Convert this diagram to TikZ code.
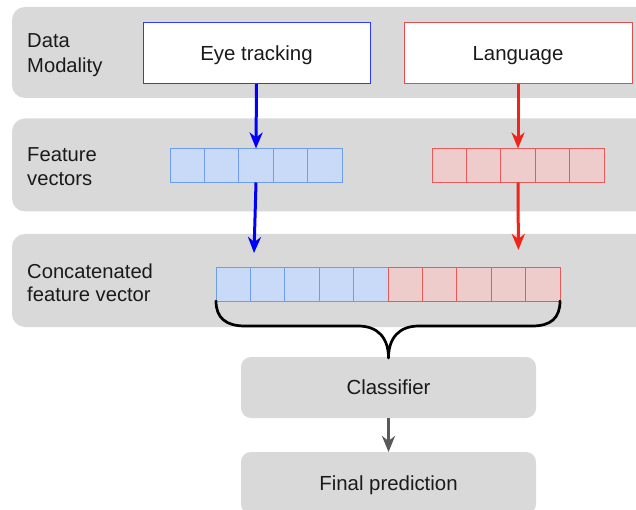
\documentclass[tikz,border=0pt]{standalone}
\usepackage{fontspec}
\setmainfont{Liberation Sans}
\usetikzlibrary{arrows.meta}

\definecolor{bandgray}{HTML}{D9D9D9}
\definecolor{txt}{HTML}{1A1A1A}
\definecolor{eyeblue}{HTML}{2B3BFF}
\definecolor{langred}{HTML}{E84B4B}
\definecolor{cellbluefill}{HTML}{C9DAF8}
\definecolor{cellblueline}{HTML}{6D9EEB}
\definecolor{cellredfill}{HTML}{EECCCC}
\definecolor{cellredline}{HTML}{E85A5A}
\definecolor{arrowblue}{HTML}{0000FF}
\definecolor{arrowred}{HTML}{F0241A}
\definecolor{arrowgray}{HTML}{595959}

\tikzset{
  band/.style={fill=bandgray, draw=none, rounded corners=13pt, anchor=north west,
    inner sep=0pt, outer sep=0pt},
  modbox/.style={fill=white, line width=1pt, anchor=north west, inner sep=0pt,
    outer sep=0pt, text=txt, font=\fontsize{20.4}{24}\selectfont,
    text height=14.5pt, text depth=0pt, align=center},
  stagebox/.style={fill=bandgray, draw=none, rounded corners=10pt, anchor=north west,
    inner sep=0pt, outer sep=0pt, text=txt, font=\fontsize{20.4}{24}\selectfont,
    text height=14.5pt, text depth=0pt},
  rowlabel/.style={anchor=base west, inner sep=0pt, text=txt,
    font=\fontsize{20.2}{24}\selectfont},
  bluecell/.style={fill=cellbluefill, draw=cellblueline, line width=0.9pt,
    minimum width=34.4pt, minimum height=34pt, inner sep=0pt, outer sep=0pt,
    anchor=north west},
  redcell/.style={fill=cellredfill, draw=cellredline, line width=0.9pt,
    minimum width=34.4pt, minimum height=34pt, inner sep=0pt, outer sep=0pt,
    anchor=north west},
  flow/.style={line width=3pt, -{Stealth[length=16pt, width=13pt, inset=5pt]}},
  brace/.style={line width=2.7pt, black, line cap=round, line join=round},
}

\begin{document}
\begin{tikzpicture}[x=1pt, y=-1pt]
\clip (0,0) rectangle (636,510);
\fill[white] (0,0) rectangle (636,510);

% horizontal stage bands
\node[band, minimum width=640pt, minimum height=91pt] (band1) at (12,7) {};
\node[band, minimum width=640pt, minimum height=93pt] (band2) at (12,118.5) {};
\node[band, minimum width=640pt, minimum height=93pt] (band3) at (12,234) {};

% row labels
\node[rowlabel] (lab1a) at (27,48) {Data};
\node[rowlabel] (lab1b) at (27,72.5) {Modality};
\node[rowlabel] (lab2a) at (27,162) {Feature};
\node[rowlabel] (lab2b) at (27,185.5) {vectors};
\node[rowlabel] (lab3a) at (27,278) {Concatenated};
\node[rowlabel] (lab3b) at (27,301.5) {feature vector};

% input modalities
\node[modbox, draw=eyeblue, minimum width=227pt, minimum height=61pt] (eye) at (143,23) {Eye tracking};
\node[modbox, draw=langred, minimum width=228pt, minimum height=61pt] (lang) at (404,23) {Language};

% per-modality feature vectors
\foreach \i in {1,...,5} {
  \node[bluecell] (bv\i) at ({170+34.4*(\i-1)},148.5) {};
  \node[redcell]  (rv\i) at ({432+34.4*(\i-1)},148.5) {};
}

% concatenated feature vector
\foreach \i in {1,...,5} {
  \node[bluecell] (cv\i) at ({216+34.4*(\i-1)},267) {};
}
\foreach \i in {6,...,10} {
  \node[redcell] (cv\i) at ({216+34.4*(\i-1)},267) {};
}

% classifier stages
\node[stagebox, minimum width=295pt, minimum height=61pt] (clf) at (241,357) {Classifier};
\node[stagebox, minimum width=295pt, minimum height=62pt] (pred) at (241,452) {Final prediction};

% arrows between stages
\coordinate (blueend) at (254,253);
\coordinate (redend) at (518.4,250);
\draw[flow, arrowblue] (eye.south) -- (bv3.north);
\draw[flow, arrowred] (lang.south -| rv3.north) -- (rv3.north);
\draw[flow, arrowblue] (bv3.south) -- (blueend);
\draw[flow, arrowred] (rv3.south) -- (redend);
\draw[flow, arrowgray] (clf.south) -- (pred.north);

% brace gathering the concatenated vector
\coordinate (tip) at (388.5,358);
\draw[brace] (cv1.south west)
  .. controls (216,318) and (226,326) .. (245,326)
  -- (358,326)
  .. controls (378,326) and (388.5,338) .. (tip)
  .. controls (388.5,338) and (399,326) .. (419,326)
  -- (532,326)
  .. controls (551,326) and (560,318) .. (cv10.south east);
\end{tikzpicture}
\end{document}
